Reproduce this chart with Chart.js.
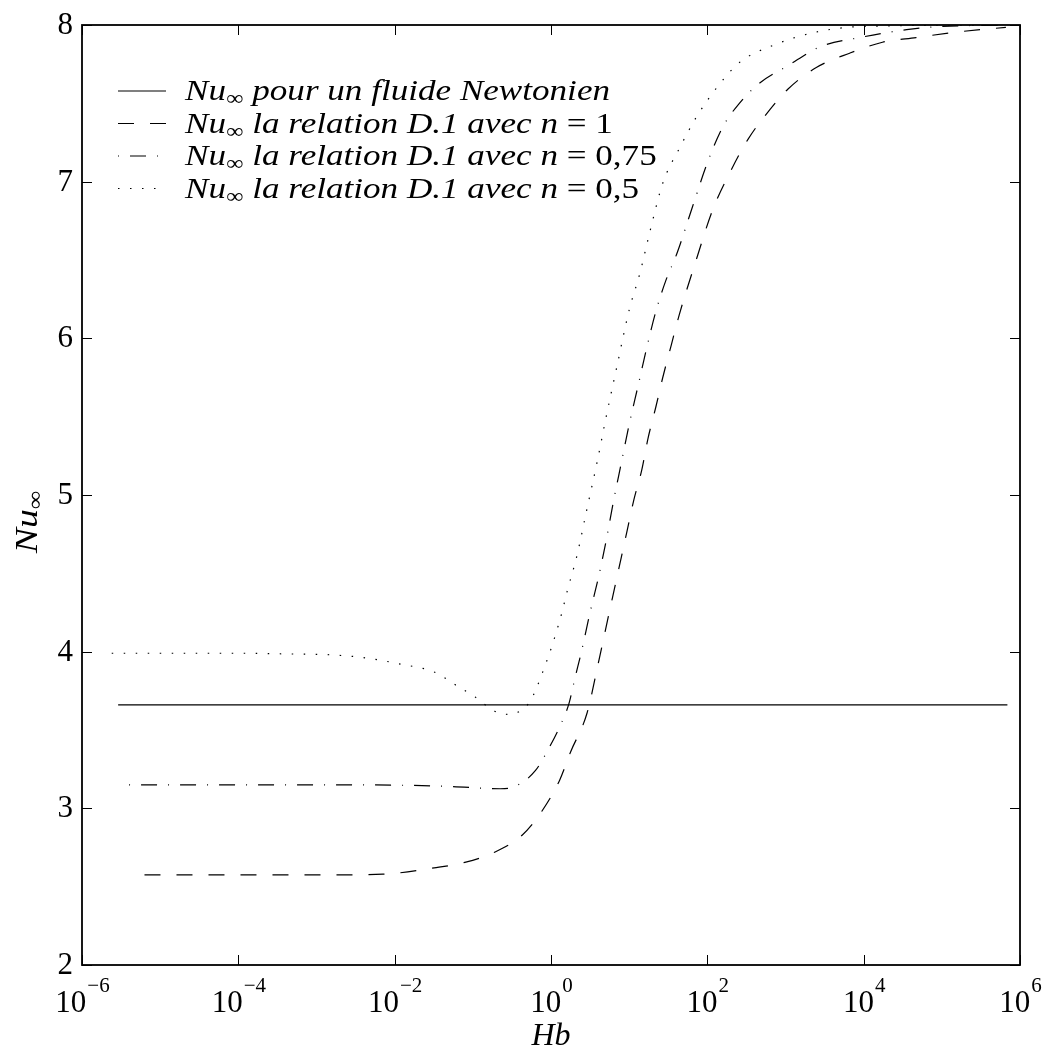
<!DOCTYPE html>
<html>
<head>
<meta charset="utf-8">
<script src="https://cdn.jsdelivr.net/npm/chart.js@4.4.0/dist/chart.umd.min.js"></script>
<style>
body { margin: 0; background: #fff; }
canvas { display: block; }
</style>
</head>
<body>
<canvas id="myChart" width="1046" height="1050"></canvas>
<script>
// Nu_inf for a Newtonian fluid (constant)
var newtonHb = [2.9e-6, 6.9e5];
var newtonNu = [3.66, 3.66];

// relation D.1, n = 1
var n1Hb = [6.3e-6, 1e-4, 1e-3, 7.1e-3, 0.032, 0.079, 0.19, 0.43, 0.76, 1.29, 1.78, 2.9, 4.0, 5.5, 6.6, 9.3, 11.5, 14.5, 17.4, 21.9, 26.9, 34.7, 43.7, 72, 117, 195, 331, 631, 1070, 2510, 6610, 17400, 46800, 155000, 660000];
var n1Nu = [2.575, 2.575, 2.575, 2.58, 2.62, 2.655, 2.72, 2.83, 2.98, 3.18, 3.36, 3.61, 3.92, 4.24, 4.42, 4.76, 4.97, 5.16, 5.36, 5.56, 5.75, 5.96, 6.15, 6.50, 6.82, 7.06, 7.27, 7.46, 7.59, 7.73, 7.82, 7.89, 7.92, 7.955, 7.985];

// relation D.1, n = 0.75
var n075Hb = [4.0e-6, 1e-4, 1e-3, 0.01, 0.05, 0.224, 0.347, 0.63, 0.93, 1.29, 1.70, 2.0, 2.45, 3.16, 4.07, 5.13, 6.3, 7.9, 10, 12.9, 16.6, 21.9, 29.5, 40.7, 64.6, 100, 158, 257, 468, 1070, 2750, 8910, 35500, 93300, 660000];
var n075Nu = [3.15, 3.15, 3.15, 3.148, 3.14, 3.125, 3.14, 3.24, 3.38, 3.52, 3.67, 3.82, 4.0, 4.25, 4.48, 4.72, 4.96, 5.2, 5.45, 5.69, 5.93, 6.17, 6.37, 6.54, 6.84, 7.12, 7.35, 7.50, 7.63, 7.74, 7.86, 7.92, 7.97, 7.99, 8.0];

// relation D.1, n = 0.5
var n05Hb = [2.4e-6, 1e-4, 5e-4, 1.5e-3, 4.3e-3, 0.012, 0.032, 0.059, 0.107, 0.19, 0.28, 0.52, 0.63, 0.81, 1.05, 1.38, 1.62, 2.14, 2.88, 3.89, 5.13, 6.9, 10, 13.8, 18.2, 26.9, 44.7, 72, 132, 257, 692, 2240, 8910, 660000];
var n05Nu = [3.99, 3.99, 3.985, 3.98, 3.96, 3.92, 3.87, 3.79, 3.71, 3.62, 3.60, 3.67, 3.75, 3.89, 4.05, 4.25, 4.39, 4.61, 4.91, 5.21, 5.51, 5.81, 6.18, 6.42, 6.67, 6.99, 7.22, 7.41, 7.60, 7.76, 7.87, 7.95, 7.99, 8.0];

var xTickExps = [-6, -4, -2, 0, 2, 4, 6];
var yTicks = [2, 3, 4, 5, 6, 7, 8];
var legendText = ["pour un fluide Newtonien", "la relation D.1 avec", "la relation D.1 avec", "la relation D.1 avec"];
var legendN = [null, "1", "0,75", "0,5"];

var dashes = [[], [16, 16], [1, 11, 16, 11], [1.5, 10.5]];
var serif = '"Liberation Serif", serif';

function toPoints(xs, ys) {
    var pts = [];
    for (var i = 0; i < xs.length; i++) {
        pts.push({ x: xs[i], y: ys[i] });
    }
    return pts;
}

function makeSet(xs, ys, k) {
    return {
        data: toPoints(xs, ys),
        borderColor: '#000',
        borderWidth: 1.2,
        borderDash: dashes[k],
        pointRadius: 0,
        fill: false,
        cubicInterpolationMode: 'monotone'
    };
}

// draws one legend row, returns its width
function legendRow(ctx, i, x, y, draw) {
    var start = x;
    function part(txt, font, dy) {
        ctx.font = font;
        if (draw) ctx.fillText(txt, x, y + dy);
        x += ctx.measureText(txt).width;
    }
    part("Nu", "italic 30px " + serif, 0);
    part("\u221E", "21px " + serif, 5);
    part(" " + legendText[i], "italic 30px " + serif, 0);
    if (legendN[i]) {
        part(" n", "italic 30px " + serif, 0);
        part(" = " + legendN[i], "30px " + serif, 0);
    }
    return x - start;
}

var decorations = {
    id: 'decorations',
    afterDraw: function (chart) {
        var ctx = chart.ctx;
        var ca = chart.chartArea;
        var xs = chart.scales.x, ys = chart.scales.y;
        ctx.save();
        ctx.fillStyle = '#000';
        ctx.strokeStyle = '#000';
        ctx.setLineDash([]);

        // inward ticks
        ctx.lineWidth = 1;
        ctx.beginPath();
        xTickExps.forEach(function (e) {
            var px = Math.round(xs.getPixelForValue(Math.pow(10, e))) + 0.5;
            ctx.moveTo(px, ca.bottom); ctx.lineTo(px, ca.bottom - 10);
            ctx.moveTo(px, ca.top); ctx.lineTo(px, ca.top + 10);
        });
        yTicks.forEach(function (v) {
            var py = Math.round(ys.getPixelForValue(v)) + 0.5;
            ctx.moveTo(ca.left, py); ctx.lineTo(ca.left + 10, py);
            ctx.moveTo(ca.right, py); ctx.lineTo(ca.right - 10, py);
        });
        ctx.stroke();

        // frame
        ctx.lineWidth = 1.8;
        ctx.strokeRect(ca.left, ca.top, ca.right - ca.left, ca.bottom - ca.top);

        // x tick labels 10^e
        ctx.textBaseline = 'alphabetic';
        ctx.textAlign = 'left';
        xTickExps.forEach(function (e) {
            var px = xs.getPixelForValue(Math.pow(10, e));
            var sup = e < 0 ? "\u2212" + (-e) : String(e);
            ctx.font = "31px " + serif;
            var w1 = ctx.measureText("10").width;
            ctx.font = "21px " + serif;
            var w2 = ctx.measureText(sup).width;
            var x0 = px - (w1 + w2) / 2;
            ctx.font = "31px " + serif;
            ctx.fillText("10", x0, ca.bottom + 47);
            ctx.font = "21px " + serif;
            ctx.fillText(sup, x0 + w1 + 1, ca.bottom + 27);
        });

        // y tick labels
        ctx.font = "31px " + serif;
        ctx.textAlign = 'right';
        ctx.textBaseline = 'middle';
        yTicks.forEach(function (v) {
            ctx.fillText(String(v), ca.left - 9, ys.getPixelForValue(v) + 1);
        });

        // axis titles
        ctx.textAlign = 'center';
        ctx.textBaseline = 'alphabetic';
        ctx.font = "italic 32px " + serif;
        ctx.fillText("Hb", (ca.left + ca.right) / 2, 1045);

        ctx.save();
        ctx.translate(37, 522);
        ctx.rotate(-Math.PI / 2);
        ctx.scale(1.18, 1);
        ctx.textAlign = 'left';
        ctx.font = "italic 32px " + serif;
        var wn = ctx.measureText("Nu").width;
        ctx.font = "22px " + serif;
        var wi = ctx.measureText("\u221E").width;
        ctx.font = "italic 32px " + serif;
        ctx.fillText("Nu", -(wn + wi) / 2, 0);
        ctx.font = "22px " + serif;
        ctx.fillText("\u221E", -(wn + wi) / 2 + wn, 5);
        ctx.restore();

        // legend (no box)
        ctx.textAlign = 'left';
        var sx = 425 / legendRow(ctx, 0, 0, 0, false);
        for (var i = 0; i < legendText.length; i++) {
            var base = 100 + 32.5 * i;
            ctx.lineWidth = 1.2;
            ctx.setLineDash(dashes[i]);
            ctx.beginPath();
            ctx.moveTo(118, base - 9);
            ctx.lineTo(166, base - 9);
            ctx.stroke();
            ctx.setLineDash([]);
            ctx.save();
            ctx.translate(185, base);
            ctx.scale(sx, 1);
            legendRow(ctx, i, 0, 0, true);
            ctx.restore();
        }
        ctx.restore();
    }
};

var ctx = document.getElementById('myChart').getContext('2d');
var chart = new Chart(ctx, {
    type: 'line',
    data: {
        datasets: [
            makeSet(newtonHb, newtonNu, 0),
            makeSet(n1Hb, n1Nu, 1),
            makeSet(n075Hb, n075Nu, 2),
            makeSet(n05Hb, n05Nu, 3)
        ]
    },
    options: {
        responsive: false,
        animation: false,
        devicePixelRatio: 1,
        layout: { padding: { left: 82, right: 26, top: 25, bottom: 85 } },
        plugins: { legend: { display: false }, tooltip: { enabled: false } },
        scales: {
            x: { type: 'logarithmic', min: 1e-6, max: 1e6, display: false },
            y: { type: 'linear', min: 2, max: 8, display: false }
        }
    },
    plugins: [decorations]
});
</script>
</body>
</html>
